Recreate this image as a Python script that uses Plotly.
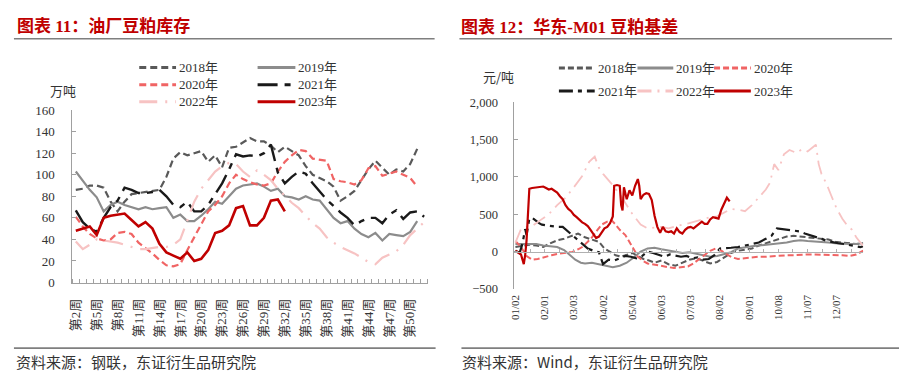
import plotly.graph_objects as go

W, H = 901, 384

# ---------------- Left chart: 油厂豆粕库存 (万吨), weeks 2..52 ----------------
weeks = list(range(2, 53))
week_tick_vals = list(range(2, 51, 3))
week_tick_text = [f"第{w}周" for w in week_tick_vals]

inv_2018 = [86, 87, 90, 90, 88, 75, 66, 75, 82, 83, 84, 85, 86, 98, 115, 121, 118, 120, 122, 112,
            118, 107, 125, 126, 130, 134, 131, 131, 127, 121, 126, 122, 118, 108, 100, 97, 94, 89, 76, 80,
            85, 95, 105, 113, 106, 100, 105, 103, 110, 124, None]
inv_2019 = [103, 94, 86, 79, 66, 72, 75, 72, 70, 68, 70, 68, 69, 70, 60, 63, 57, 57, 62, 68,
            75, 73, 80, 87, 90, 91, 92, 89, 85, 87, 80, 79, 77, 80, 77, 76, 68, 60, 55, 57,
            50, 45, 42, 46, 39, 45, 44, 43, 47, 57, None]
inv_2020 = [61, 52, 45, 41, 39, 40, 46, 47, 45, 37, 32, 27, 21, 16, 15, 17, 30, 42, 55, 66,
            72, 80, 92, 100, 96, 93, 91, 90, 92, 103, 112, 118, 123, 122, 115, 114, 113, 96, 94, 93,
            91, 95, 106, 108, 99, 101, 103, 100, 97, 89, None]
inv_2021 = [67, 56, 50, 47, 60, 70, 76, 88, 86, 83, 83, 84, 86, 80, 72, 70, 75, 66, 66, 72,
            82, 92, 105, 119, 117, 118, 117, 120, 128, 102, 92, 98, 103, 101, 92, 84, 77, 71, 65, 60,
            53, 57, 60, 60, 55, 63, 67, 59, 65, 66, 61]
inv_2022 = [38, 31, 35, 40, 39, 38, 37, 35, 33, 31, 31, 32, 33, 33, 35, 40, 58, 75, 87, 95,
            103, 108, 111, 110, 103, 98, 104, 100, 95, 87, 80, 74, 69, 62, 55, 50, 42, 37, 33, 30,
            27, 23, 19, 17, 23, 26, 29, 35, 44, 50, 56]
inv_2023 = [48, 50, 52, 44, 60, 62, 63, 64, 58, 52, 56, 50, 36, 28, 25, 22, 28, 20, 22, 30,
            46, 48, 53, 69, 71, 53, 53, 60, 76, 77, 66] + [None] * 20

# ---------------- Right chart: 华东-M01 豆粕基差 (元/吨), trading-day index ----------------
basis_tick_idx = [0, 21, 42, 63, 84, 105, 126, 147, 168, 189, 210, 231]
basis_tick_text = ["01/02", "02/01", "03/03", "04/02", "05/04", "06/03",
                   "07/03", "08/02", "09/01", "10/08", "11/07", "12/07"]

b18_x = [0, 5, 10, 15, 20, 25, 30, 35, 40, 45, 50, 55, 60, 64, 68, 72, 76, 80, 84, 88, 92, 96, 100,
         105, 110, 115, 120, 125, 130, 135, 140, 145, 150, 155, 160, 165, 170, 175, 180, 185, 190, 195,
         200, 205, 210, 215, 220, 225, 230, 235, 240, 245, 250]
b18_y = [60, 70, 90, 80, 60, 110, 150, 170, 200, 240, 190, 160, 130, 40, -10, -50, -70, -40, -20, -60,
         -100, -120, -150, -120, -170, -190, -150, -110, -90, -120, -160, -140, -80, -20, 10, 20, 40, 80,
         110, 130, 160, 200, 210, 200, 190, 180, 170, 160, 130, 120, 110, 100, 110]

b19_x = [0, 5, 10, 15, 20, 25, 30, 35, 40, 43, 47] + list(range(50, 251, 5))
b19_y = [100, 100, 110, 100, 80, 70, 60, 20, -60, -110, -150,
         -160, -150, -170, -200, -210, -190, -150, -80, 0, 40, 50, 30, 10, -10, -20, -10, -30, -50, -70,
         -60, -40, -10, 40, 60, 70, 80, 90, 100, 110, 120, 140, 150, 140, 130, 120, 120, 110, 100, 100,
         100, 110]

b20_x = [0, 4, 8, 12, 16, 21, 26, 31, 36, 41, 45, 48, 52, 55, 59, 62, 66, 69, 72, 75, 79, 83, 86, 88,
         92, 95, 100, 105, 110, 114, 118, 124, 128, 132, 136, 140, 144, 148, 152, 156, 160, 165, 170,
         175, 180, 185, 190, 195, 200, 205, 210, 215, 220, 225, 230, 235, 240, 245, 250]
b20_y = [140, 60, -60, -110, -100, -70, -50, -30, -15, -5, 30, 60, 130, 190, 290, 360, 400, 420, 360,
         290, 220, 100, 0, -70, -130, -160, -180, -200, -210, -220, -210, -200, -160, -100, -40, 10, 40,
         10, -40, -80, -100, -90, -80, -70, -70, -60, -60, -50, -50, -40, -40, -40, -40, -40, -40, -50,
         -60, -40, 10]

b21_x = [0, 3, 5, 7, 8, 10, 12, 14, 17, 19, 22, 26, 30, 34, 37, 40, 43, 46, 49, 52, 56, 60, 63, 67,
         71, 75, 79, 83, 87, 91, 95, 99, 103, 107, 111, 115, 119, 123, 127, 131, 135, 139, 143, 147,
         151, 155, 160, 165, 170, 175, 180, 184, 188, 192, 196, 200, 204, 208, 212, 216, 220, 224, 228,
         232, 236, 240, 244, 248, 250]
b21_y = [10, -20, 100, 300, 220, 440, 450, 420, 380, 360, 350, 340, 330, 330, 280, 230, 190, 130, 80,
         40, 10, -10, -170, -110, -120, -90, -60, -70, -90, -60, 0, -20, -40, -70, -40, -60, -70, -60,
         -90, -80, -110, -100, -50, 40, 50, 50, 60, 80, 100, 120, 170, 210, 310, 300, 290, 290, 270, 240,
         220, 190, 170, 140, 120, 110, 100, 90, 80, 60, 70]

b22_x = [0, 4, 8, 12, 18, 24, 30, 36, 42, 48, 53, 57, 60, 63, 69, 76, 83, 90, 95, 100, 105, 110, 115,
         120, 125, 130, 135, 140, 145, 150, 155, 160, 165, 170, 175, 180, 183, 186, 189, 193, 197, 202,
         206, 210, 216, 218, 220, 224, 227, 231, 235, 238, 242, 245, 248, 250]
b22_y = [120, 300, 330, 340, 420, 500, 620, 720, 860, 1010, 1200, 1270, 1120, 1040, 910, 740, 530, 360,
         310, 320, 330, 310, 340, 360, 380, 410, 440, 460, 470, 520, 570, 560, 540, 620, 720, 830, 920,
         1170, 1090, 1300, 1360, 1320, 1370, 1340, 1430, 1170, 1040, 890, 750, 570, 440, 360, 290, 190,
         120, 80]

b23_x = [0, 2, 4, 6, 7, 8, 9, 10, 12, 15, 18, 20, 22, 24, 26, 28, 30, 32, 34, 36, 38, 40, 42, 44, 46,
         48, 50, 52, 54, 56, 58, 60, 62, 64, 66, 68, 70, 71, 73, 75, 76, 77, 78, 79, 80, 82, 84, 86, 88,
         89, 90, 92, 94, 96, 98, 100, 102, 104, 106, 108, 110, 112, 114, 116, 118, 120, 122, 124, 126,
         128, 130, 132, 134, 136, 138, 140, 142, 144, 146, 148, 150, 152, 154]
b23_y = [10, -20, -40, -170, -50, 150, 600, 840, 850, 860, 865, 870, 850, 830, 840, 820, 790, 740, 700,
         620, 570, 540, 490, 460, 420, 390, 370, 340, 290, 230, 180, 200, 260, 310, 330, 380, 470, 880,
         890, 880, 620, 550, 860, 760, 700, 820, 750, 880, 970, 880, 700, 760, 780, 770, 690, 480, 330,
         250, 330, 270, 260, 270, 240, 310, 260, 240, 290, 320, 330, 310, 340, 380, 400, 370, 370, 430,
         460, 450, 440, 560, 650, 720, 670]

years = ["2018年", "2019年", "2020年", "2021年", "2022年", "2023年"]

# ---------------- styles ----------------
C18, C19, C20, C21, C22, C23 = "#595959", "#8c8c8c", "#f06464", "#1a1a1a", "#f7c3c3", "#c00000"
styles = {
    "2018年": dict(color=C18, dash="7px,4px", width=2.2),
    "2019年": dict(color=C19, dash="solid", width=2.2),
    "2020年": dict(color=C20, dash="7px,4px", width=2.2),
    "2021年": dict(color=C21, dash="20px,7px,6px,7px", width=2.4),
    "2022年": dict(color=C22, dash="18px,8px,2px,8px", width=2.2),
    "2023年": dict(color=C23, dash="solid", width=2.6),
}
rstyles = {
    "2018年": dict(color=C18, dash="6px,3px", width=2.0),
    "2019年": dict(color=C19, dash="solid", width=2.0),
    "2020年": dict(color=C20, dash="6px,3px", width=2.0),
    "2021年": dict(color=C21, dash="14px,5px,4px,5px", width=2.2),
    "2022年": dict(color=C22, dash="14px,6px,2px,6px", width=1.8),
    "2023年": dict(color=C23, dash="solid", width=2.2),
}

SERIF = "Liberation Serif, Noto Sans CJK SC, serif"
CJK = "Noto Sans CJK SC, sans-serif"

def px(x):
    return x / W

def py(y):
    return 1 - y / H

fig = go.Figure()

left_series = [inv_2018, inv_2019, inv_2020, inv_2021, inv_2022, inv_2023]
for name, vals in zip(years, left_series):
    fig.add_trace(go.Scatter(x=weeks, y=vals, mode="lines", name=name, line=styles[name],
                             showlegend=False, xaxis="x", yaxis="y", hoverinfo="skip"))

right_series = [(b18_x, b18_y), (b19_x, b19_y), (b20_x, b20_y), (b21_x, b21_y), (b22_x, b22_y), (b23_x, b23_y)]
for name, (xs, ys) in zip(years, right_series):
    fig.add_trace(go.Scatter(x=xs, y=ys, mode="lines", name=name, line=rstyles[name],
                             showlegend=False, xaxis="x2", yaxis="y2", hoverinfo="skip"))
# carrier for the zero-level axis line of the right chart
fig.add_trace(go.Scatter(x=[None], y=[None], mode="lines", showlegend=False, xaxis="x3", yaxis="y2",
                         hoverinfo="skip"))

AX = "#a0a0a0"
L_dom_y = [py(286.7), py(107.3)]
R_dom_y = [py(293.3), py(99.0)]
R_yrange = [-500, 2000]
zero_pos = R_dom_y[0] + (0 - R_yrange[0]) / (R_yrange[1] - R_yrange[0]) * (R_dom_y[1] - R_dom_y[0])
R_xrange = [-0.7, 250]

fig.update_layout(
    width=W, height=H, margin=dict(l=0, r=0, t=0, b=0), autosize=False,
    paper_bgcolor="white", plot_bgcolor="white", showlegend=False,
    xaxis=dict(domain=[px(67.7), px(425)], range=[1.5, 52.5], anchor="y",
               tickmode="array", tickvals=week_tick_vals, ticktext=week_tick_text,
               tickangle=-90, ticks="", showline=True, linecolor=AX, linewidth=1,
               showgrid=False, zeroline=False, ticklabelstandoff=10,
               tickfont=dict(family=SERIF, size=13, color="#333"),
               minor=dict(ticks="inside", tick0=1.5, dtick=1, ticklen=4, tickcolor=AX, showgrid=False)),
    yaxis=dict(domain=L_dom_y, range=[0, 160], dtick=20, anchor="x",
               ticks="inside", ticklen=4, tickcolor=AX, showline=True, linecolor=AX, linewidth=1,
               showgrid=False, zeroline=False, ticklabelstandoff=14,
               tickfont=dict(family=SERIF, size=13, color="#333")),
    xaxis2=dict(domain=[px(512.3), px(863)], range=R_xrange, anchor="y2",
                tickmode="array", tickvals=basis_tick_idx, ticktext=basis_tick_text,
                tickangle=-90, ticks="", showline=False, showgrid=False, zeroline=False,
                ticklabelstandoff=3, tickfont=dict(family=SERIF, size=11, color="#333")),
    xaxis3=dict(domain=[px(512.3), px(863)], range=R_xrange, overlaying="x2", anchor="free",
                position=zero_pos, showline=True, linecolor="#b0b0b0", linewidth=1,
                ticks="inside", tick0=0, dtick=10.5, ticklen=3, tickcolor="#b0b0b0",
                showticklabels=False, showgrid=False, zeroline=False),
    yaxis2=dict(domain=R_dom_y, range=R_yrange, dtick=500, anchor="x2",
                ticks="inside", ticklen=4, tickcolor=AX, showline=True, linecolor=AX, linewidth=1,
                showgrid=False, zeroline=False, tickformat=",d", ticklabelstandoff=13,
                tickfont=dict(family=SERIF, size=12.5, color="#333")),
)

shapes = []
annotations = []

# header / footer rules
for x0, x1 in [(9, 432), (457, 892)]:
    shapes.append(dict(type="line", xref="paper", yref="paper", x0=px(x0), x1=px(x1), y0=py(33), y1=py(33),
                       line=dict(color="#7f7f7f", width=1.6)))
for x0, x1 in [(9, 433), (459, 899)]:
    shapes.append(dict(type="line", xref="paper", yref="paper", x0=px(x0), x1=px(x1), y0=py(355), y1=py(355),
                       line=dict(color="#7f7f7f", width=1.6)))

# titles
annotations.append(dict(text="<b>图表 11：油厂豆粕库存</b>", xref="paper", yref="paper", x=px(10), y=py(20),
                        xanchor="left", yanchor="middle", showarrow=False,
                        font=dict(family=SERIF, size=17, color="#c00000")))
annotations.append(dict(text="<b>图表 12：华东-M01 豆粕基差</b>", xref="paper", yref="paper", x=px(457), y=py(21),
                        xanchor="left", yanchor="middle", showarrow=False,
                        font=dict(family=SERIF, size=17, color="#c00000")))
# sources
annotations.append(dict(text="资料来源：钢联，东证衍生品研究院", xref="paper", yref="paper", x=px(9), y=py(369),
                        xanchor="left", yanchor="middle", showarrow=False,
                        font=dict(family=CJK, size=15, color="#333")))
annotations.append(dict(text="资料来源：Wind，东证衍生品研究院", xref="paper", yref="paper", x=px(458), y=py(369),
                        xanchor="left", yanchor="middle", showarrow=False,
                        font=dict(family=CJK, size=15, color="#333")))
# unit labels
annotations.append(dict(text="万吨", xref="paper", yref="paper", x=px(58), y=py(87),
                        xanchor="center", yanchor="middle", showarrow=False,
                        font=dict(family=CJK, size=13, color="#333")))
annotations.append(dict(text="元/吨", xref="paper", yref="paper", x=px(496), y=py(72),
                        xanchor="center", yanchor="middle", showarrow=False,
                        font=dict(family=CJK, size=13, color="#333")))

# manual legends
def legend_entry(name, st, x0, x1, y):
    shapes.append(dict(type="line", xref="paper", yref="paper", x0=px(x0), x1=px(x1), y0=py(y), y1=py(y),
                       line=dict(color=st["color"], width=3, dash=st["dash"])))
    annotations.append(dict(text=name, xref="paper", yref="paper", x=px(x1 + 1), y=py(y),
                            xanchor="left", yanchor="middle", showarrow=False,
                            font=dict(family=SERIF, size=13, color="#333")))

left_pos = [(135, 172, 63), (254, 292, 63), (135, 172, 81), (254, 292, 81), (135, 172, 98.5), (254, 292, 98.5)]
for name, (x0, x1, y) in zip(years, left_pos):
    legend_entry(name, styles[name], x0, x1, y)

right_pos = [(557, 593, 63.5), (636, 672, 63.5), (713, 750, 63.5),
             (557, 593, 87.5), (636, 672, 87.5), (713, 750, 87.5)]
for name, (x0, x1, y) in zip(years, right_pos):
    legend_entry(name, rstyles[name], x0, x1, y)

fig.update_layout(shapes=shapes, annotations=annotations)
fig.write_html("out.html", config={"displayModeBar": False, "staticPlot": True},
               post_script="document.body.style.margin='0';document.body.style.padding='0';")
